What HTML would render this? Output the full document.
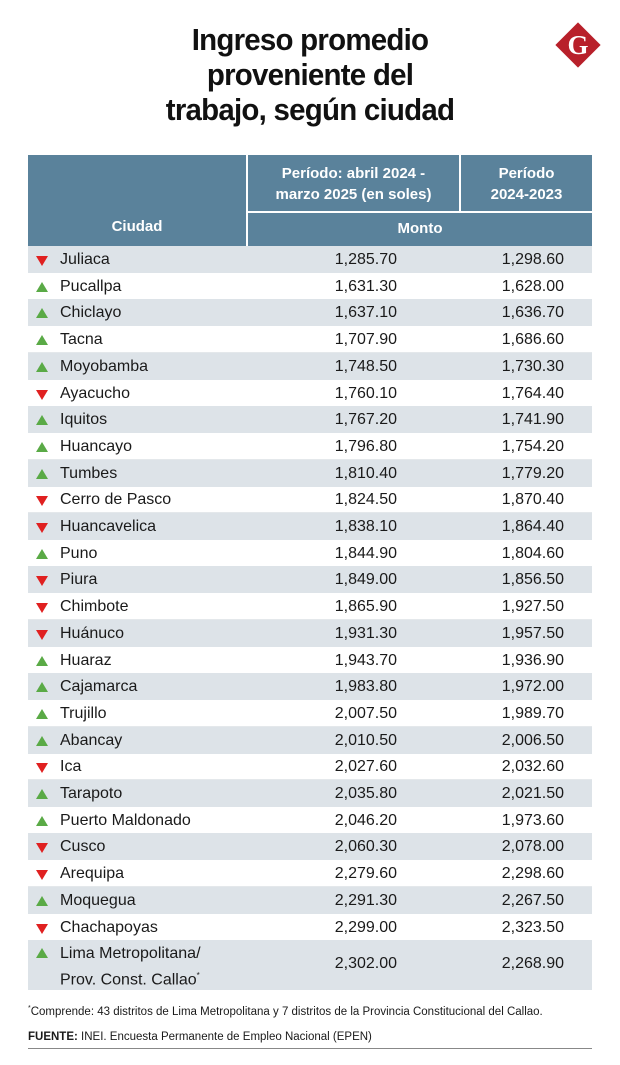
<!DOCTYPE html>
<html><head><meta charset="utf-8"><style>
*{margin:0;padding:0;box-sizing:border-box}
body{width:620px;height:1065px;background:#fff;font-family:"Liberation Sans",sans-serif;position:relative;overflow:hidden;color:#1a1a1a}
.title{position:absolute;top:22px;left:0;width:620px;text-align:center;font-weight:bold;font-size:31px;line-height:35px;letter-spacing:-0.8px;color:#111;transform:scaleX(0.95)}
.logo{position:absolute;left:562px;top:29px;width:32px;height:32px;background:#b8202a;transform:rotate(45deg)}
.logoG{position:absolute;left:563px;top:28px;width:30px;text-align:center;font-family:"Liberation Serif",serif;font-weight:bold;font-size:27px;color:#fff;line-height:34px}
.hdr{position:absolute;background:#5a829b;color:#fff;font-weight:bold;text-align:center;font-size:15px}
.row{position:absolute;left:28px;width:564px;height:27px;font-size:16px;line-height:27px}
.row.s{background:#dde3e8}
.row .n{position:absolute;left:32px}
.row .a{position:absolute;right:195px}
.row .b{position:absolute;right:28px}
.up,.dn{position:absolute;left:8px;top:9px;width:0;height:0;border-left:6px solid transparent;border-right:6px solid transparent}
.up{border-bottom:10px solid #5aaa46}
.dn{border-top:10px solid #e02020;top:10px}
.foot{position:absolute;left:28px;font-size:11.5px}
</style></head><body>
<div class="title">Ingreso promedio<br>proveniente del<br>trabajo, según ciudad</div>
<div class="logo"></div><div class="logoG">G</div>

<div class="hdr" style="left:28px;top:155px;width:564px;height:91px"></div>
<div class="hdr" style="left:28px;top:218px;width:218px;font-size:15px">Ciudad</div>
<div style="position:absolute;left:246px;top:155px;width:2px;height:91px;background:#fff"></div>
<div style="position:absolute;left:459px;top:155px;width:2px;height:57px;background:#fff"></div>
<div style="position:absolute;left:246px;top:211px;width:346px;height:2px;background:#fff"></div>
<div class="hdr" style="left:248px;top:163px;width:211px;line-height:21px;background:none">Período: abril 2024 -<br>marzo 2025 (en soles)</div>
<div class="hdr" style="left:461px;top:163px;width:131px;line-height:21px;background:none">Período<br>2024-2023</div>
<div class="hdr" style="left:248px;top:220px;width:344px;background:none">Monto</div>

<div id="rows"></div>
<script>
var d=[["dn","Juliaca","1,285.70","1,298.60"],["up","Pucallpa","1,631.30","1,628.00"],["up","Chiclayo","1,637.10","1,636.70"],["up","Tacna","1,707.90","1,686.60"],["up","Moyobamba","1,748.50","1,730.30"],["dn","Ayacucho","1,760.10","1,764.40"],["up","Iquitos","1,767.20","1,741.90"],["up","Huancayo","1,796.80","1,754.20"],["up","Tumbes","1,810.40","1,779.20"],["dn","Cerro de Pasco","1,824.50","1,870.40"],["dn","Huancavelica","1,838.10","1,864.40"],["up","Puno","1,844.90","1,804.60"],["dn","Piura","1,849.00","1,856.50"],["dn","Chimbote","1,865.90","1,927.50"],["dn","Huánuco","1,931.30","1,957.50"],["up","Huaraz","1,943.70","1,936.90"],["up","Cajamarca","1,983.80","1,972.00"],["up","Trujillo","2,007.50","1,989.70"],["up","Abancay","2,010.50","2,006.50"],["dn","Ica","2,027.60","2,032.60"],["up","Tarapoto","2,035.80","2,021.50"],["up","Puerto Maldonado","2,046.20","1,973.60"],["dn","Cusco","2,060.30","2,078.00"],["dn","Arequipa","2,279.60","2,298.60"],["up","Moquegua","2,291.30","2,267.50"],["dn","Chachapoyas","2,299.00","2,323.50"]];
var h="";
d.forEach(function(r,i){var t=246+i*26.7;h+='<div class="row'+(i%2==0?' s':'')+'" style="top:'+t+'px;'+(i%2?'border-bottom:1px solid #e4e8eb':'')+'"><span class="'+r[0]+'"></span><span class="n">'+r[1]+'</span><span class="a">'+r[2]+'</span><span class="b">'+r[3]+'</span></div>';});
h+='<div class="row s" style="top:940px;height:50px;line-height:22px"><span class="up" style="top:8px"></span><span class="n" style="top:3px">Lima Metropolitana/<br>Prov. Const. Callao<sup style="font-size:8px">*</sup></span><span class="a" style="top:13px">2,302.00</span><span class="b" style="top:13px">2,268.90</span></div>';
document.getElementById("rows").innerHTML=h;
</script>
<div class="foot" style="top:1005px"><sup style="font-size:7px">*</sup>Comprende: 43 distritos de Lima Metropolitana y 7 distritos de la Provincia Constitucional del Callao.</div>
<div class="foot" style="top:1031px"><b>FUENTE:</b> INEI. Encuesta Permanente de Empleo Nacional (EPEN)</div>
<div style="position:absolute;left:28px;top:1048px;width:564px;height:1px;background:#888"></div>
</body></html>
